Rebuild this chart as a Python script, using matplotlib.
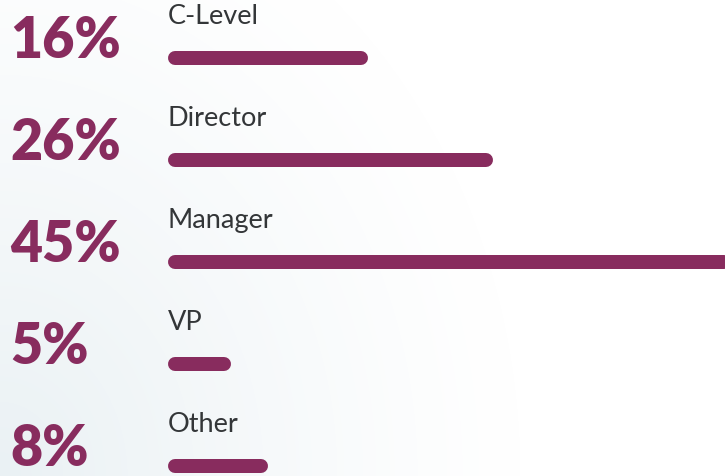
import numpy as np
import matplotlib.pyplot as plt

# data
roles = ["C-Level", "Director", "Manager", "VP", "Other"]
shares = [16, 26, 45, 5, 8]

bar_color = "#882c5e"
label_color = "#333638"

W, H, DPI = 725, 477, 100
px_per_pct = 12.5
bar_x0 = 168
row_px = 102
first_row_px = 59
bar_px = 14

fig = plt.figure(figsize=(W / DPI, H / DPI), dpi=DPI)

# faint bluish gradient in the lower left corner
bg = fig.add_axes([0, 0, 1, 1])
yy, xx = np.mgrid[0:H, 0:W]
d = np.sqrt((xx / 520.0) ** 2 + ((H - yy) / 620.0) ** 2)
t = np.clip(1 - d, 0, 1) ** 1.2
img = np.ones((H, W, 3))
tint = np.array([234, 241, 244]) / 255.0
for c in range(3):
    img[:, :, c] = 1 - t * (1 - tint[c])
bg.imshow(img, aspect="auto", extent=[0, 1, 0, 1])
bg.axis("off")

ax = fig.add_axes([0, 0, 1, 1])
ax.patch.set_alpha(0)
ax.set_xlim(-bar_x0 / px_per_pct, (W - bar_x0) / px_per_pct)
ax.set_ylim((H - first_row_px) / row_px, -first_row_px / row_px)
ax.axis("off")

cap = (bar_px / 2) / px_per_pct
lw = bar_px * 72 / DPI
for i, (name, v) in enumerate(zip(roles, shares)):
    ax.plot([cap, v - cap], [i, i], color=bar_color, lw=lw,
            solid_capstyle="round")
    ax.annotate(name, (0, i), xytext=(0, 42), textcoords="offset pixels",
                ha="left", va="center", fontsize=19.5, color=label_color,
                family="Lato")
    ax.annotate(f"{v}%", (0, i), xytext=(-158, 18), textcoords="offset pixels",
                ha="left", va="center", fontsize=40, color=bar_color,
                family="Lato", weight="heavy")

fig.savefig("out.png", dpi=DPI)
